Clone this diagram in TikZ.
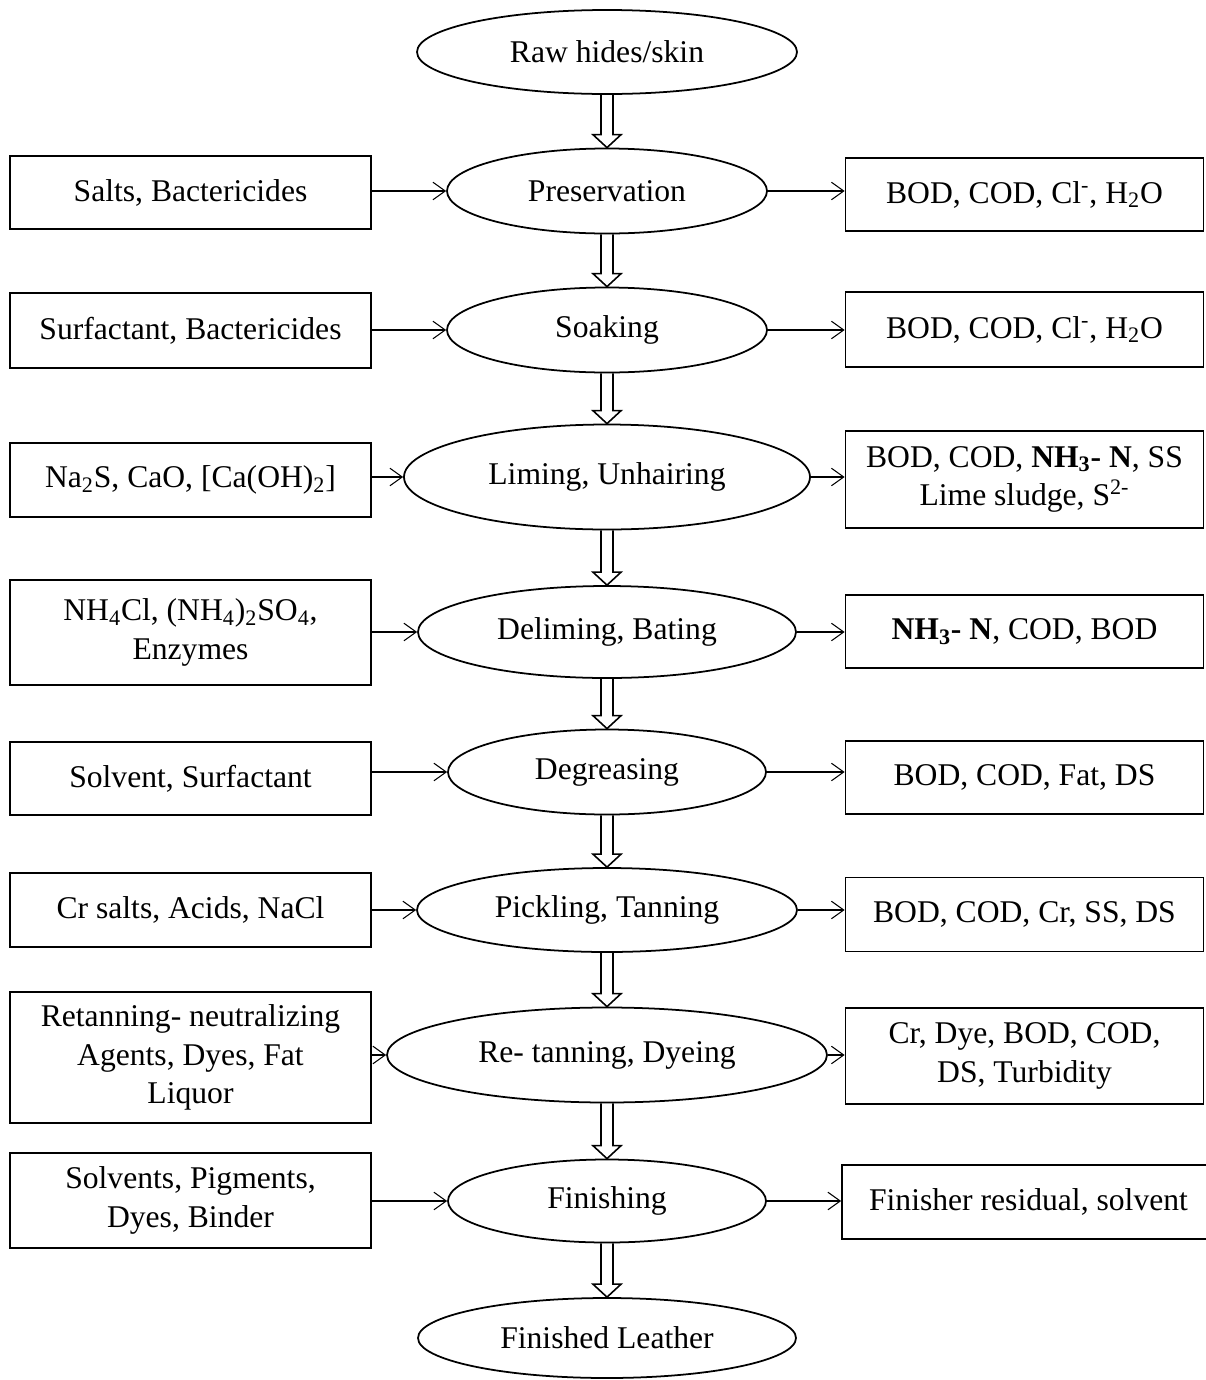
\documentclass[tikz,border=0pt]{standalone}
\usepackage{fontspec}
\setmainfont{Liberation Serif}
\usetikzlibrary{shapes.geometric, arrows.meta, calc}

\tikzset{
    stage/.style={draw, ellipse, line width=1pt, inner sep=0pt, font=\fontsize{18}{22}\selectfont},
    agent/.style={draw, rectangle, line width=1pt, inner sep=2pt, align=center, font=\fontsize{18}{22}\selectfont},
    feed/.style={line width=0.6pt, -{Straight Barb[length=7pt, width=10pt]}},
    flow/.style={line width=0.9pt, to path={
        let \p1=(\tikztostart), \p2=(\tikztotarget) in
        (\x1-3.4pt,\y1) -- (\x1-3.4pt,\y2+7.4pt) -- (\x1-8pt,\y2+7.4pt) -- (\x2,\y2)
        -- (\x1+8pt,\y2+7.4pt) -- (\x1+3.4pt,\y2+7.4pt) -- (\x1+3.4pt,\y1)}}
}

\begin{document}
\begin{tikzpicture}[x=0.02cm, y=-0.02cm]
    \useasboundingbox (0,0) rectangle (1206,1380);

    % Process stages
    \foreach \n/\y/\w/\h/\txt in {E0/52/380/84/{Raw hides/skin}, E1/191/320/85/{Preservation},
        E2/330/320/85/{Soaking}, E3/477/406/105/{Liming, Unhairing}, E4/632/378/92/{Deliming, Bating},
        E5/772/318/85/{Degreasing}, E6/910/380/84/{Pickling, Tanning}, E7/1055/440/95/{Re- tanning, Dyeing},
        E8/1201/318/83/{Finishing}, E9/1338/378/80/{Finished Leather}} {
        \node[stage, minimum width=\w*0.02cm, minimum height=\h*0.02cm] (\n) at (607,\y) {\txt};
    }

    % Chemicals in
    \foreach \n/\y/\h/\txt in {L1/192.5/73/{Salts, Bactericides}, L2/330.5/75/{Surfactant, Bactericides},
        L3/480/74/{Na\textsubscript{2}S, CaO, [Ca(OH)\textsubscript{2}]},
        L4/632.5/105/{NH\textsubscript{4}Cl, (NH\textsubscript{4})\textsubscript{2}SO\textsubscript{4},\\ Enzymes},
        L5/778.5/73/{Solvent, Surfactant}, L6/910/74/{Cr salts, Acids, NaCl},
        L7/1057.5/131/{Retanning- neutralizing\\ Agents, Dyes, Fat\\ Liquor},
        L8/1200.5/95/{Solvents, Pigments,\\ Dyes, Binder}} {
        \node[agent, minimum width=361*0.02cm, minimum height=\h*0.02cm] (\n) at (190.5,\y) {\txt};
    }

    % Wastes out
    \foreach \n/\y/\h/\txt in {R1/194.5/73/{BOD, COD, Cl\textsuperscript{-}, H\textsubscript{2}O},
        R2/329.5/75/{BOD, COD, Cl\textsuperscript{-}, H\textsubscript{2}O},
        R3/479.5/97/{BOD, COD, \textbf{NH\textsubscript{3}- N}, SS\\ Lime sludge, S\textsuperscript{2-}},
        R4/631.5/73/{\textbf{NH\textsubscript{3}- N}, COD, BOD}, R5/777.5/73/{BOD, COD, Fat, DS},
        R6/914.5/74/{BOD, COD, Cr, SS, DS}, R7/1056/96/{Cr, Dye, BOD, COD,\\ DS, Turbidity}} {
        \node[agent, minimum width=358*0.02cm, minimum height=\h*0.02cm] (\n) at (1024.5,\y) {\txt};
    }
    \node[agent, minimum width=373*0.02cm, minimum height=74*0.02cm] (R8) at (1028.5,1202) {Finisher residual, solvent};

    % Main flow
    \foreach \a/\b in {E0/E1, E1/E2, E2/E3, E3/E4, E4/E5, E5/E6, E6/E7, E7/E8, E8/E9} {
        \draw[flow] (\a.south) to (\b.north);
    }

    % Side arrows
    \foreach \i in {1,...,8} {
        \draw[feed] (L\i.east |- E\i) -- (E\i.west);
        \draw[feed] (E\i.east) -- (R\i.west |- E\i);
    }
\end{tikzpicture}
\end{document}
